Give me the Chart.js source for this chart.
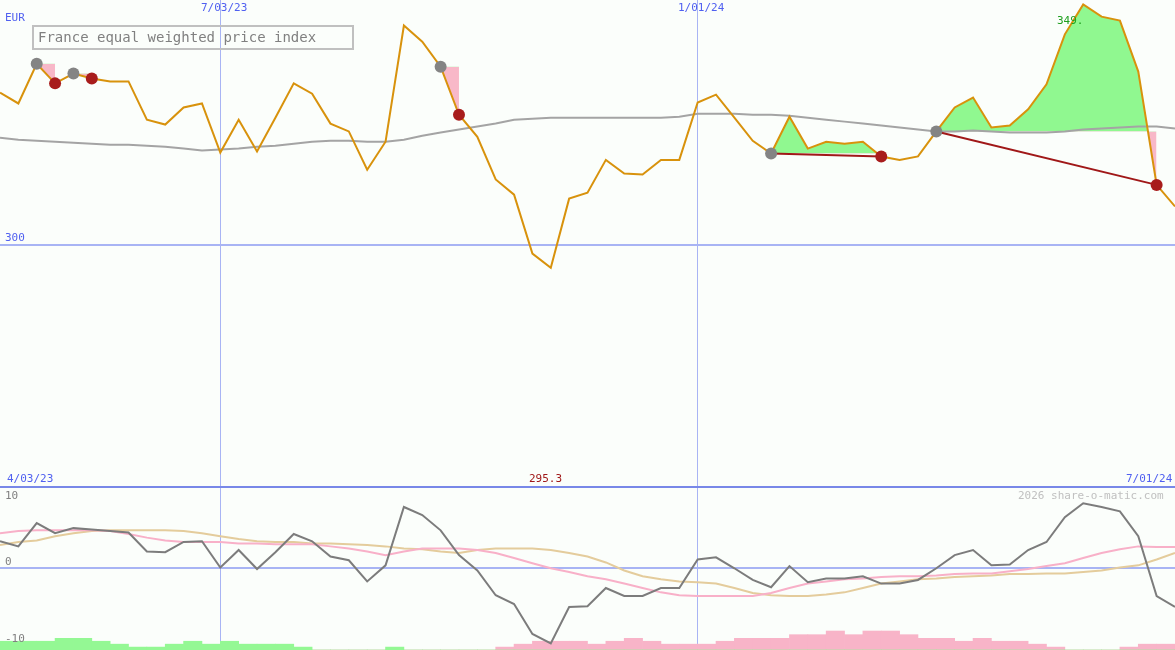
<!DOCTYPE html>
<html>
<head>
<meta charset="utf-8">
<script src="https://cdn.jsdelivr.net/npm/chart.js@4/dist/chart.umd.min.js"></script>
<style>
  body { margin: 0; background: #fbfefb; }
  #wrap { position: relative; width: 1175px; height: 650px; overflow: hidden; font-family: "DejaVu Sans Mono", monospace; }
  #top { position: absolute; left: 0; top: 0; }
  #bot { position: absolute; left: 0; top: 488px; }
  .lbl { position: absolute; font-size: 11px; color: #5060f0; white-space: nowrap; }
  #title { position: absolute; left: 32px; top: 25px; width: 314px; height: 21px; border: 2px solid #c0c0c0;
           color: #808080; font-size: 14px; line-height: 21px; padding-left: 4px; box-sizing: content-box; }
  #sep { position: absolute; left: 0; top: 486px; width: 1175px; height: 2px; background: #7888e8; }
</style>
</head>
<body>
<div id="wrap">
  <canvas id="top" width="1175" height="487"></canvas>
  <canvas id="bot" width="1175" height="162"></canvas>
  <div id="sep"></div>
  <div id="title">France equal weighted price index</div>
  <div class="lbl" style="left:5px;top:11px">EUR</div>
  <div class="lbl" style="left:201px;top:1px">7/03/23</div>
  <div class="lbl" style="left:678px;top:1px">1/01/24</div>
  <div class="lbl" style="left:5px;top:231px">300</div>
  <div class="lbl" style="left:1057px;top:14px;color:#20a020">349.</div>
  <div class="lbl" style="left:7px;top:472px">4/03/23</div>
  <div class="lbl" style="left:529px;top:472px;color:#a01818">295.3</div>
  <div class="lbl" style="left:1126px;top:472px">7/01/24</div>
  <div class="lbl" style="left:5px;top:489px;color:#808080">10</div>
  <div class="lbl" style="left:5px;top:555px;color:#808080">0</div>
  <div class="lbl" style="left:5px;top:632px;color:#808080">-10</div>
  <div class="lbl" style="left:1018px;top:489px;color:#c0c0c0">2026 share-o-matic.com</div>
</div>
<script>
// weekly points, index 0 = left edge
const price = [331.0, 328.8, 336.9, 332.9, 334.9, 333.9, 333.3, 333.3, 325.5, 324.5,
  328.0, 328.8, 318.8, 325.5, 319.0, 325.9, 332.9, 330.8, 324.7, 323.1,
  315.3, 321.0, 344.7, 341.4, 336.3, 326.5, 322.0, 313.3, 310.2, 298.2,
  295.3, 309.4, 310.6, 317.3, 314.5, 314.3, 317.3, 317.3, 329.0, 330.6,
  325.9, 321.2, 318.6, 326.1, 319.6, 321.0, 320.6, 321.0, 318.0, 317.3,
  318.0, 323.1, 328.0, 330.0, 323.9, 324.3, 327.6, 332.7, 342.9, 349.0,
  346.5, 345.7, 335.3, 312.2, 307.8];
const avg = [321.8, 321.4, 321.2, 321.0, 320.8, 320.6, 320.4, 320.4, 320.2, 320.0,
  319.6, 319.2, 319.4, 319.6, 320.0, 320.2, 320.6, 321.0, 321.2, 321.2,
  321.0, 321.0, 321.4, 322.2, 322.9, 323.5, 324.1, 324.7, 325.5, 325.7,
  325.9, 325.9, 325.9, 325.9, 325.9, 325.9, 325.9, 326.1, 326.7, 326.7,
  326.7, 326.5, 326.5, 326.3, 325.9, 325.5, 325.1, 324.7, 324.3, 323.9,
  323.5, 323.1, 323.1, 323.3, 323.1, 322.9, 322.9, 322.9, 323.1, 323.5,
  323.7, 323.9, 324.1, 324.1, 323.7];
const buyIdx  = [2, 4, 24, 42, 51];
const sellIdx = [3, 5, 25, 48, 63];

const momentum = [3.7, 3.0, 6.2, 4.8, 5.5, 5.3, 5.1, 4.9, 2.3, 2.2,
  3.6, 3.7, 0.1, 2.5, -0.1, 2.2, 4.7, 3.7, 1.6, 1.1,
  -1.8, 0.4, 8.4, 7.3, 5.2, 1.8, -0.3, -3.7, -4.9, -9.0,
  -10.3, -5.3, -5.2, -2.7, -3.8, -3.8, -2.7, -2.7, 1.2, 1.5,
  0.0, -1.6, -2.6, 0.3, -1.9, -1.4, -1.4, -1.1, -2.1, -2.1,
  -1.6, 0.0, 1.8, 2.5, 0.4, 0.5, 2.5, 3.6, 7.0, 8.9,
  8.4, 7.8, 4.4, -3.8, -5.3];
const signalPink = [4.8, 5.1, 5.2, 5.2, 5.2, 5.2, 5.1, 4.7, 4.2, 3.8,
  3.6, 3.6, 3.6, 3.4, 3.4, 3.3, 3.3, 3.3, 3.0, 2.7,
  2.3, 1.8, 2.3, 2.7, 2.7, 2.7, 2.5, 2.1, 1.4, 0.7,
  0.0, -0.5, -1.1, -1.5, -2.1, -2.7, -3.3, -3.7, -3.8, -3.8,
  -3.8, -3.8, -3.4, -2.7, -2.1, -1.8, -1.5, -1.4, -1.2, -1.1,
  -1.1, -1.0, -0.8, -0.7, -0.7, -0.4, -0.1, 0.3, 0.7, 1.4,
  2.1, 2.6, 3.0, 2.9, 2.9];
const signalTan = [3.2, 3.6, 3.8, 4.4, 4.8, 5.1, 5.2, 5.2, 5.2, 5.2,
  5.1, 4.8, 4.4, 4.0, 3.7, 3.6, 3.6, 3.4, 3.4, 3.3,
  3.2, 3.0, 2.7, 2.6, 2.3, 2.1, 2.5, 2.7, 2.7, 2.7,
  2.5, 2.1, 1.6, 0.8, -0.3, -1.1, -1.5, -1.8, -1.9, -2.1,
  -2.7, -3.4, -3.7, -3.8, -3.8, -3.6, -3.3, -2.7, -2.1, -1.8,
  -1.5, -1.4, -1.2, -1.1, -1.0, -0.8, -0.8, -0.7, -0.7, -0.5,
  -0.3, 0.1, 0.4, 1.2, 2.1];
const histGreen = [1.2, 1.2, 1.2, 1.6, 1.6, 1.2, 0.8, 0.4, 0.4, 0.8,
  1.2, 0.8, 1.2, 0.8, 0.8, 0.8, 0.4, 0, 0, 0,
  0, 0.4, 0, 0, 0, 0, 0, 0, 0, 0,
  0, 0, 0, 0, 0, 0, 0, 0, 0, 0,
  0, 0, 0, 0, 0, 0, 0, 0, 0, 0,
  0, 0, 0, 0, 0, 0, 0, 0, 0, 0,
  0, 0, 0, 0, 0];
const histPink = [0, 0, 0, 0, 0, 0, 0, 0, 0, 0,
  0, 0, 0, 0, 0, 0, 0, 0, 0, 0,
  0, 0, 0, 0, 0, 0, 0, 0.4, 0.8, 1.2,
  1.2, 1.2, 0.8, 1.2, 1.6, 1.2, 0.8, 0.8, 0.8, 1.2,
  1.6, 1.6, 1.6, 2.1, 2.1, 2.6, 2.1, 2.6, 2.6, 2.1,
  1.6, 1.6, 1.2, 1.6, 1.2, 1.2, 0.8, 0.4, 0, 0,
  0, 0.4, 0.8, 0.8, 0];
const dateTicks = [12, 38];

const GRID = "#a8b4f4";
const HIST_BASE = -11.2;
const pts = arr => arr.map((v, i) => ({ x: i, y: v }));

const tradeSets = [];
buyIdx.forEach((b, k) => {
  const s = sellIdx[k];
  const seg = [];
  for (let i = b; i <= s; i++) seg.push({ x: i, y: price[i] });
  tradeSets.push({ type: "line", data: seg, borderWidth: 0, pointRadius: 0,
    fill: { target: { value: price[b] }, above: "#90f890", below: "#f8b8c8" }, order: 5 });
  if (s - b > 1) tradeSets.push({ type: "line", data: [{ x: b, y: price[b] }, { x: s, y: price[s] }],
    borderColor: "#a01818", borderWidth: 2, pointRadius: 0, order: 2 });
});

function xScale() {
  return { type: "linear", min: 0, max: 64, offset: false,
    afterBuildTicks: ax => { ax.ticks = dateTicks.map(v => ({ value: v })); },
    ticks: { display: false, padding: 0 }, border: { display: false },
    grid: { color: GRID, lineWidth: 1, drawTicks: false, tickLength: 0, offset: false } };
}
function yScale(min, max, line) {
  return { min, max,
    afterBuildTicks: ax => { ax.ticks = [{ value: line }]; },
    ticks: { display: false, padding: 0 }, border: { display: false },
    grid: { color: GRID, lineWidth: 2, drawTicks: false, tickLength: 0 } };
}
const common = { responsive: false, animation: false, events: [],
  layout: { padding: 0, autoPadding: false },
  plugins: { legend: { display: false }, tooltip: { enabled: false } } };

new Chart(document.getElementById("top"), {
  type: "line",
  data: { datasets: [
    ...tradeSets,
    { data: pts(avg), borderColor: "#a4a4a4", borderWidth: 2, pointRadius: 0, order: 4 },
    { data: pts(price), borderColor: "#d8920c", borderWidth: 2, pointRadius: 0, order: 3 },
    { data: buyIdx.map(i => ({ x: i, y: price[i] })), showLine: false, pointRadius: 6,
      pointBackgroundColor: "#848484", pointBorderWidth: 0, order: 1 },
    { data: sellIdx.map(i => ({ x: i, y: price[i] })), showLine: false, pointRadius: 6,
      pointBackgroundColor: "#a81c1c", pointBorderWidth: 0, order: 1 }
  ] },
  options: { ...common, scales: { x: xScale(), y: yScale(250.6, 349.9, 300) } }
});

new Chart(document.getElementById("bot"), {
  type: "line",
  data: { datasets: [
    { data: pts(signalTan), borderColor: "#e4cc9c", borderWidth: 2, pointRadius: 0, order: 3 },
    { data: pts(signalPink), borderColor: "#f8b0c8", borderWidth: 2, pointRadius: 0, order: 2 },
    { data: pts(momentum), borderColor: "#7c7c7c", borderWidth: 2, pointRadius: 0, order: 1 },
    { type: "bar", data: histGreen.map((h, i) => ({ x: i + 0.5, y: HIST_BASE + h })), base: HIST_BASE,
      backgroundColor: "#94f894", barPercentage: 1, categoryPercentage: 1, grouped: false, order: 4 },
    { type: "bar", data: histPink.map((h, i) => ({ x: i + 0.5, y: HIST_BASE + h })), base: HIST_BASE,
      backgroundColor: "#f8b4c8", barPercentage: 1, categoryPercentage: 1, grouped: false, order: 4 }
  ] },
  options: { ...common, scales: { x: xScale(), y: yScale(HIST_BASE, 11.0, 0) } }
});
</script>
</body>
</html>
